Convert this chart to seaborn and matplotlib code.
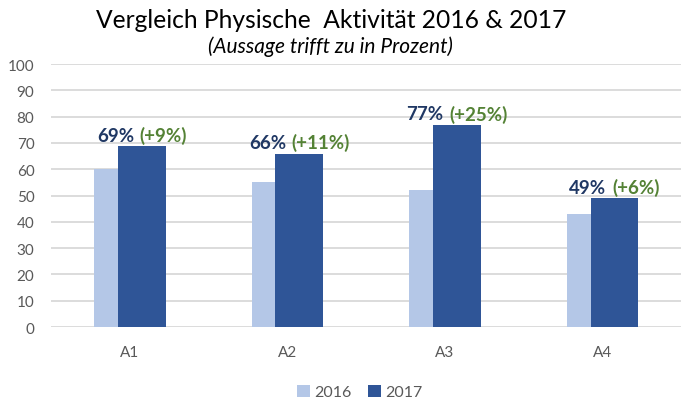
import matplotlib
matplotlib.use("Agg")
import matplotlib.pyplot as plt
from matplotlib.offsetbox import TextArea, HPacker, AnnotationBbox
import pandas as pd
import seaborn as sns

categories = ["A1", "A2", "A3", "A4"]
years = ["2016", "2017"]
values_2016 = [60, 55, 52, 43]
values_2017 = [69, 66, 77, 49]
labels_pct = ["69%", "66%", "77%", "49%"]
labels_delta = ["(+9%)", "(+11%)", "(+25%)", "(+6%)"]

df = pd.DataFrame({
    "Aussage": categories * 2,
    "Jahr": [years[0]] * 4 + [years[1]] * 4,
    "Prozent": values_2016 + values_2017,
})

light = "#B4C7E7"
dark = "#2F5597"
navy = "#203864"
green = "#548235"
gray = "#595959"

sns.set_style("white")
plt.rcParams["font.family"] = ["Lato", "DejaVu Sans"]

fig = plt.figure(figsize=(6.82, 4.02), dpi=100)
ax = fig.add_axes([0.075, 0.184, 0.924, 0.654])

sns.barplot(data=df, x="Aussage", y="Prozent", hue="Jahr",
            palette=[light, dark], width=0.608, saturation=1,
            linewidth=0, ax=ax)

# let the 2017 bars overlap the 2016 bars by half a bar
shift = 0.076
for bar in ax.containers[0]:
    bar.set_x(bar.get_x() + shift)
    bar.set_zorder(2)
for bar in ax.containers[1]:
    bar.set_x(bar.get_x() - shift)
    bar.set_zorder(3)

ax.set_ylim(0, 100)
ax.set_xlim(-0.5, 3.5)
ax.set_yticks(range(0, 101, 10))
ax.yaxis.grid(True, color="#D9D9D9", lw=1.3)
ax.set_axisbelow(True)
sns.despine(left=True, bottom=True)
ax.set_xlabel("")
ax.set_ylabel("")
ax.tick_params(axis="both", length=0, colors=gray, labelsize=11)
ax.tick_params(axis="x", pad=13)
ax.tick_params(axis="y", pad=12)

for i, bar in enumerate(ax.containers[1]):
    cx = bar.get_x() + bar.get_width() / 2
    box = HPacker(children=[
        TextArea(labels_pct[i], textprops=dict(color=navy, fontsize=13.5, fontweight="bold")),
        TextArea(labels_delta[i], textprops=dict(color=green, fontsize=13.5, fontweight="bold")),
    ], pad=0, sep=4)
    ab = AnnotationBbox(box, (cx, bar.get_height()), xybox=(0, 1.5),
                        boxcoords="offset points", box_alignment=(0.5, 0),
                        frameon=False, annotation_clip=False)
    ax.add_artist(ab)

fig.text(0.485, 0.93, "Vergleich Physische  Aktivität 2016 & 2017",
         ha="center", va="baseline", fontsize=17.7, color="#000000")
fig.text(0.484, 0.868, "(Aussage trifft zu in Prozent)", ha="center",
         va="baseline", fontsize=15, style="italic", color="#000000")

sns.move_legend(ax, "lower center", bbox_to_anchor=(0.49, -0.33), ncol=2,
                frameon=False, title=None, fontsize=11.5, handlelength=0.8,
                handleheight=0.8, handletextpad=0.3, columnspacing=1.0,
                labelcolor=gray)

fig.savefig("out.png", dpi=100)
